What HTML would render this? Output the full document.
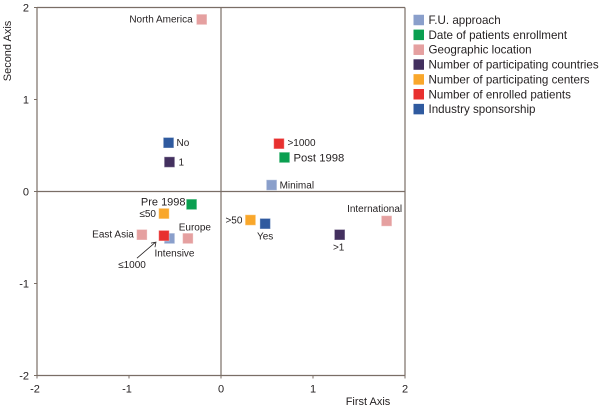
<!DOCTYPE html>
<html>
<head>
<meta charset="utf-8">
<style>
html,body{margin:0;padding:0;background:#fff;}
svg{display:block;font-family:"Liberation Sans",Arial,sans-serif;filter:blur(0.25px);}
</style>
</head>
<body>
<svg id="chart" width="600" height="409" viewBox="0 0 600 409" xmlns="http://www.w3.org/2000/svg"></svg>
<script>
const axisTicks = [-2, -1, 0, 1, 2];
const legendCategories = ["F.U. approach", "Date of patients enrollment", "Geographic location", "Number of participating countries", "Number of participating centers", "Number of enrolled patients", "Industry sponsorship"];
const categoryColors = ["#8a9fcb", "#0a9f50", "#e5a0a0", "#43305f", "#f9a72b", "#e8302f", "#2f5a9f"];
const pointLabels = ["North America", "No", "1", ">1000", "Post 1998", "Minimal", "Pre 1998", "≤50", "East Asia", "Intensive", "≤1000", "Europe", ">50", "Yes", ">1", "International"];
const pointCategories = [2, 6, 3, 5, 1, 0, 1, 4, 2, 0, 5, 2, 4, 6, 3, 2];
const firstAxisValues = [-0.21, -0.57, -0.56, 0.63, 0.69, 0.55, -0.32, -0.62, -0.86, -0.56, -0.62, -0.36, 0.32, 0.48, 1.29, 1.80];
const secondAxisValues = [1.87, 0.53, 0.32, 0.52, 0.37, 0.07, -0.14, -0.24, -0.47, -0.51, -0.48, -0.51, -0.31, -0.35, -0.47, -0.32];
const drawOrder = [0, 1, 2, 3, 4, 5, 6, 7, 8, 9, 10, 11, 12, 13, 14, 15];

const labelLayout = {
  "North America": {dx: -9, dy: 3, a: "end", s: 10},
  "No": {dx: 8, dy: 3.5, a: "start", s: 10},
  "1": {dx: 9, dy: 3.5, a: "start", s: 10},
  ">1000": {dx: 8.5, dy: 2.5, a: "start", s: 10},
  "Post 1998": {dx: 9, dy: 4, a: "start", s: 11.3},
  "Minimal": {dx: 8, dy: 3.5, a: "start", s: 10},
  "Pre 1998": {dx: -6, dy: 1, a: "end", s: 11},
  "≤50": {dx: -8, dy: 3.5, a: "end", s: 10},
  "East Asia": {dx: -8, dy: 3, a: "end", s: 10},
  "Intensive": {dx: 5, dy: 18, a: "middle", s: 10},
  "≤1000": {dx: -32, dy: 32.5, a: "middle", s: 10},
  "Europe": {dx: 7, dy: -8, a: "middle", s: 10},
  ">50": {dx: -8, dy: 3.5, a: "end", s: 10},
  "Yes": {dx: 0, dy: 16, a: "middle", s: 10},
  ">1": {dx: -1, dy: 16, a: "middle", s: 10},
  "International": {dx: -12, dy: -9, a: "middle", s: 10}
};

const NS = "http://www.w3.org/2000/svg";
const svg = document.getElementById("chart");
const AX = "#7a6e66";
const X0 = 37, X1 = 405, Y0 = 375.5, Y1 = 7.5;
function xScale(v){ return X0 + (v + 2) / 4 * (X1 - X0); }
function yScale(v){ return Y0 - (v + 2) / 4 * (Y0 - Y1); }
function make(tag, attrs, parent){
  const el = document.createElementNS(NS, tag);
  for (const k in attrs) el.setAttribute(k, attrs[k]);
  (parent || svg).appendChild(el);
  return el;
}
function addText(str, x, y, size, anchor, parent){
  const t = make("text", {x: x, y: y, "font-size": size, "text-anchor": anchor, fill: "#231f20"}, parent);
  t.textContent = str;
  return t;
}

const frame = make("g", {});


const hTop = make("line", {x1: X0, x2: X1, y1: Y1, y2: Y1, stroke: AX, "stroke-width": 1.2}, frame);


const hBot = make("line", {x1: X0, x2: X1, y1: Y0, y2: Y0, stroke: AX, "stroke-width": 1.2}, frame);


const vLeft = make("line", {x1: X0, x2: X0, y1: Y1, y2: Y0, stroke: AX, "stroke-width": 1.2}, frame);


const vRight = make("line", {x1: X1, x2: X1, y1: Y1, y2: Y0, stroke: AX, "stroke-width": 1.2}, frame);


const hZero = make("line", {x1: X0, x2: X1, y1: yScale(0), y2: yScale(0), stroke: AX, "stroke-width": 1.2}, frame);


const vZero = make("line", {x1: xScale(0), x2: xScale(0), y1: Y1, y2: Y0, stroke: AX, "stroke-width": 1.2}, frame);



axisTicks.forEach(function(v){
  const tx = make("line", {x1: xScale(v), x2: xScale(v), y1: Y0, y2: Y0 + 3, stroke: AX, "stroke-width": 1}, frame);
  
  
  const ty = make("line", {x1: X0 - 3, x2: X0, y1: yScale(v), y2: yScale(v), stroke: AX, "stroke-width": 1}, frame);
  
  
  const lx = addText(String(v), xScale(v) - (v < 0 ? 2 : 0), Y0 + 17, 11, "middle");
  
  
  const ly = addText(String(v), X0 - 8, yScale(v) + 4, 11, "end");
  
  
});

const xTitle = addText("First Axis", 368, 405, 11, "middle");


const yTitle = addText("Second Axis", 0, 0, 11, "middle");
yTitle.setAttribute("transform", "translate(11,51) rotate(-90)");



drawOrder.forEach(function(i){
  const px = xScale(firstAxisValues[i]), py = yScale(secondAxisValues[i]);
  const m = make("rect", {x: px - 5.25, y: py - 5.25, width: 10.5, height: 10.5, fill: categoryColors[pointCategories[i]], stroke: "#fff", "stroke-opacity": 0.35, "stroke-width": 1});
  
  
  const layout = labelLayout[pointLabels[i]];
  const t = addText(pointLabels[i], px + layout.dx, py + layout.dy, layout.s, layout.a);
  
  
});

const li = pointLabels.indexOf("≤1000");
const ax = xScale(firstAxisValues[li]), ay = yScale(secondAxisValues[li]);
const arrow = make("line", {x1: ax - 27, y1: ay + 22.5, x2: ax - 9, y2: ay + 7, stroke: "#231f20", "stroke-width": 0.8});


const hx = ax - 8, hy = ay + 6.5;
const head = make("path", {d: "M" + (hx - 5) + " " + (hy + 1) + " L" + hx + " " + hy + " L" + (hx - 1) + " " + (hy + 5), fill: "none", stroke: "#231f20", "stroke-width": 0.8});



const legend = make("g", {});


legendCategories.forEach(function(name, i){
  const ly = 20 + i * 14.85;
  const sw = make("rect", {x: 413.5, y: ly - 5.25, width: 10.5, height: 10.5, fill: categoryColors[i]}, legend);
  
  
  const t = addText(name, 428.5, ly + 4, 11.6, "start", legend);
  
  
});
</script>
</body>
</html>
